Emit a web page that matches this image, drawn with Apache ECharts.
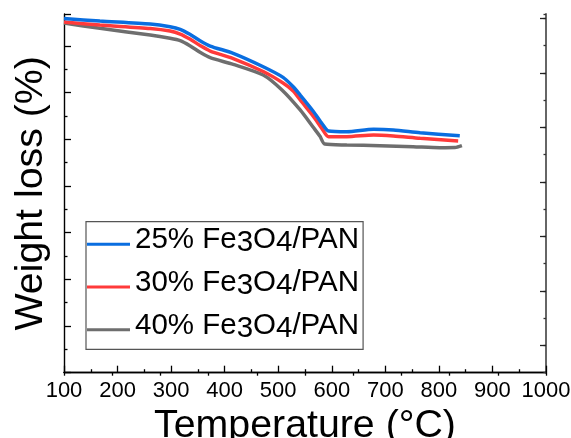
<!DOCTYPE html>
<html>
<head>
<meta charset="utf-8">
<script src="https://cdn.jsdelivr.net/npm/echarts@6/dist/echarts.min.js"></script>
<style>
html,body{margin:0;padding:0;background:#fff;}
#c{width:571px;height:438px;}
</style>
</head>
<body>
<div id="c"></div>
<script>
// ---- data (temperature °C, weight %) ----
const seriesNames = ['25% Fe3O4/PAN', '30% Fe3O4/PAN', '40% Fe3O4/PAN'];
const tempTicks = [100, 200, 300, 400, 500, 600, 700, 800, 900, 1000];

const blueT = [100, 167, 261, 298, 317, 335, 354, 373, 416, 472, 509, 528, 541, 566, 582, 594, 628, 678, 715, 765, 839];
const blueW = [95.83, 95.30, 94.65, 94.08, 93.52, 92.45, 91.08, 89.94, 88.38, 85.51, 83.24, 81.23, 79.45, 75.88, 73.3, 71.75, 71.60, 72.11, 71.96, 71.38, 70.74];

const redT = [100, 167, 261, 298, 317, 335, 354, 373, 416, 472, 509, 528, 541, 566, 582, 594, 628, 678, 715, 765, 836];
const redW = [95.08, 94.44, 93.69, 93.15, 92.51, 91.44, 90.05, 88.87, 87.27, 84.48, 82.02, 80.31, 78.38, 74.81, 72.2, 70.53, 70.53, 70.89, 70.68, 70.18, 69.60];

const grayT = [100, 167, 261, 298, 317, 335, 354, 373, 416, 472, 507, 541, 565, 578, 587, 628, 690, 752, 802, 830, 843];
const grayW = [94.87, 93.73, 92.30, 91.59, 91.08, 90.01, 88.59, 87.44, 86.03, 83.73, 80.53, 76.25, 72.60, 70.6, 68.95, 68.75, 68.60, 68.38, 68.17, 68.2, 68.60];

const colors = ['#0a6ee0', '#ff3a3a', '#6e6e6e'];
const FONT = "'Liberation Sans', Arial, sans-serif";

function pairs(t, w) { return t.map((x, i) => [x, w[i]]); }

const chart = echarts.init(document.getElementById('c'), null, { renderer: 'canvas' });

const option = {
  animation: false,
  backgroundColor: '#fff',
  grid: { left: 64, right: 25, top: 14, bottom: 65.3, containLabel: false, outerBoundsMode: 'none' },
  xAxis: [
    {
      type: 'value', position: 'bottom', min: tempTicks[0], max: tempTicks[tempTicks.length - 1], interval: 100,
      name: 'Temperature (°C)', nameLocation: 'middle', nameGap: 27,
      nameTextStyle: { fontSize: 39.3, fontFamily: FONT, color: '#000' },
      axisLine: { show: true, lineStyle: { color: '#000', width: 1.4 } },
      axisTick: { show: true, inside: true, length: 7, lineStyle: { color: '#000', width: 1.3 } },
      minorTick: { show: true, splitNumber: 2, length: 3.5, lineStyle: { color: '#000', width: 1.3 } },
      axisLabel: { show: true, margin: 7, fontSize: 22, fontFamily: FONT, color: '#000', showMinLabel: true, showMaxLabel: true, hideOverlap: false,
        formatter: function (v) { return String(v); } },
      splitLine: { show: false }
    },
    {
      type: 'value', position: 'top', min: 0, max: 10, interval: 1,
      axisLine: { show: true, lineStyle: { color: '#000', width: 1.4 } },
      axisTick: { show: true, inside: true, length: 3, lineStyle: { color: '#000', width: 1.3 } },
      axisLabel: { show: false },
      splitLine: { show: false }
    }
  ],
  yAxis: [
    {
      type: 'value', position: 'left', min: 20, max: 96.8, interval: 10,
      name: 'Weight loss (%)', nameLocation: 'middle', nameGap: 13, nameRotate: 90,
      nameTextStyle: { fontSize: 39.3, fontFamily: FONT, color: '#000' },
      axisLine: { show: true, lineStyle: { color: '#000', width: 1.4 } },
      axisTick: { show: true, inside: true, length: 7, lineStyle: { color: '#000', width: 1.3 } },
      minorTick: { show: true, splitNumber: 2, length: 3.5, lineStyle: { color: '#000', width: 1.3 } },
      axisLabel: { show: false },
      splitLine: { show: false }
    },
    {
      type: 'value', position: 'right', min: 0, max: 13.16, interval: 1,
      axisLine: { show: true, lineStyle: { color: '#666', width: 2 } },
      axisTick: { show: true, inside: true, length: 2.5, lineStyle: { color: '#333', width: 1.3 } },
      axisLabel: { show: false },
      splitLine: { show: false }
    },
    {
      type: 'value', position: 'right', min: 0, max: 13.16, interval: 1,
      axisLine: { show: false },
      axisTick: { show: true, inside: true, length: 6, customValues: [1, 3, 5, 7, 9, 11, 13], lineStyle: { color: '#222', width: 1.3 } },
      axisLabel: { show: false },
      splitLine: { show: false }
    }
  ],
  legend: {
    show: true,
    orient: 'vertical',
    left: 86, top: 221.7,
    padding: [3.6, 4, 0.6, 1],
    itemGap: 4.7,
    itemWidth: 43, itemHeight: 3,
    icon: 'rect',
    borderColor: '#555', borderWidth: 1.2,
    backgroundColor: 'transparent',
    data: seriesNames,
    formatter: function (name) {
      const p = name.split('Fe3O4');
      return '{n|' + p[0] + 'Fe}{s|3}{n|O}{s|4}{n|' + p[1] + '}';
    },
    textStyle: {
      fontSize: 29.5, fontFamily: FONT, color: '#000',
      rich: {
        n: { fontSize: 29.5, fontFamily: FONT, color: '#000', lineHeight: 30, padding: [0, 0, 8, 0] },
        s: { fontSize: 29.5, fontFamily: FONT, color: '#000', lineHeight: 30, padding: [3, 0, 5, 0] }
      }
    }
  },
  series: [
    { name: seriesNames[0], type: 'line', xAxisIndex: 0, yAxisIndex: 0, data: pairs(blueT, blueW), showSymbol: false, smooth: 0.25, lineStyle: { color: colors[0], width: 3.5 }, itemStyle: { color: colors[0] }, z: 4 },
    { name: seriesNames[1], type: 'line', xAxisIndex: 0, yAxisIndex: 0, data: pairs(redT, redW), showSymbol: false, smooth: 0.25, lineStyle: { color: colors[1], width: 3.5 }, itemStyle: { color: colors[1] }, z: 3 },
    { name: seriesNames[2], type: 'line', xAxisIndex: 0, yAxisIndex: 0, data: pairs(grayT, grayW), showSymbol: false, smooth: 0.25, lineStyle: { color: colors[2], width: 3.5 }, itemStyle: { color: colors[2] }, z: 2 }
  ]
};
chart.setOption(option);
</script>
</body>
</html>
